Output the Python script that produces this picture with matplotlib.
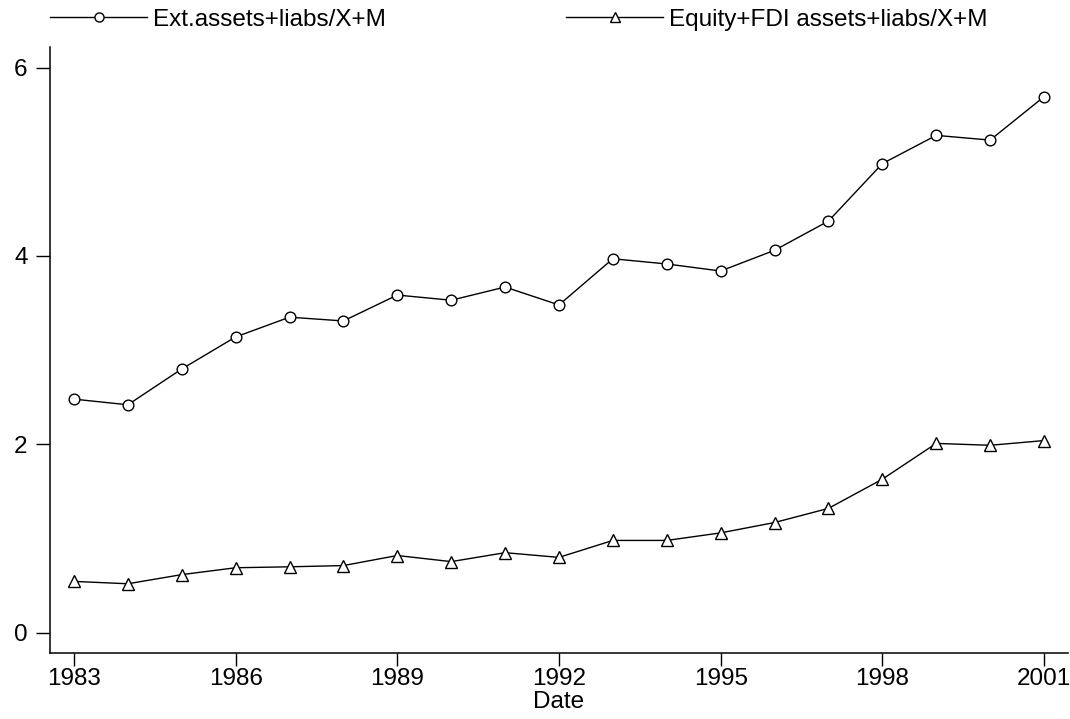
import numpy as np
import matplotlib
matplotlib.use("Agg")
import matplotlib.pyplot as plt

plt.rcParams['font.family'] = ['Liberation Sans', 'DejaVu Sans']

years = np.arange(1983, 2002)
ext_ratio = [2.48, 2.42, 2.80, 3.14, 3.35, 3.31, 3.585, 3.53, 3.67, 3.48,
             3.97, 3.915, 3.84, 4.06, 4.37, 4.98, 5.28, 5.23, 5.69]
equity_ratio = [0.545, 0.52, 0.617, 0.69, 0.70, 0.713, 0.82, 0.755, 0.85, 0.80,
                0.98, 0.98, 1.06, 1.17, 1.32, 1.63, 2.01, 1.99, 2.04]
x_ticks = [1983, 1986, 1989, 1992, 1995, 1998, 2001]
y_ticks = [0, 2, 4, 6]

fig = plt.figure(figsize=(10.7, 7.19), dpi=100)
ax = fig.add_axes([0.0467, 0.0918, 0.9514, 0.8428])

ax.plot(years, ext_ratio, color='black', lw=1.0, marker='o', ms=7.7,
        mfc='white', mec='black', mew=1.0, label='Ext.assets+liabs/X+M')
ax.plot(years, equity_ratio, color='black', lw=1.0, marker='^', ms=8.4,
        mfc='white', mec='black', mew=1.0, label='Equity+FDI assets+liabs/X+M')

ax.set_xlim(1982.555, 2001.445)
ax.set_ylim(-0.215, 6.218)
ax.set_xticks(x_ticks)
ax.set_yticks(y_ticks)
ax.tick_params(axis='both', labelsize=17.5, width=1, direction='out')
ax.tick_params(axis='x', length=9.5, pad=1)
ax.tick_params(axis='y', length=10, pad=6)
ax.set_xlabel('Date', fontsize=17.5)
ax.xaxis.label.set_va('center')
ax.xaxis.set_label_coords(0.5, -0.081)
for s in ['top', 'right']:
    ax.spines[s].set_visible(False)
for s in ['left', 'bottom']:
    ax.spines[s].set_linewidth(1.1)

fig.legend(loc='upper left', bbox_to_anchor=(0.0467, 0.9875), ncol=2,
           frameon=False, fontsize=17.5, handlelength=4.0, markerscale=0.85,
           columnspacing=7.4, handletextpad=0.25, borderpad=0,
           borderaxespad=0)

fig.savefig('out.png', dpi=100)
